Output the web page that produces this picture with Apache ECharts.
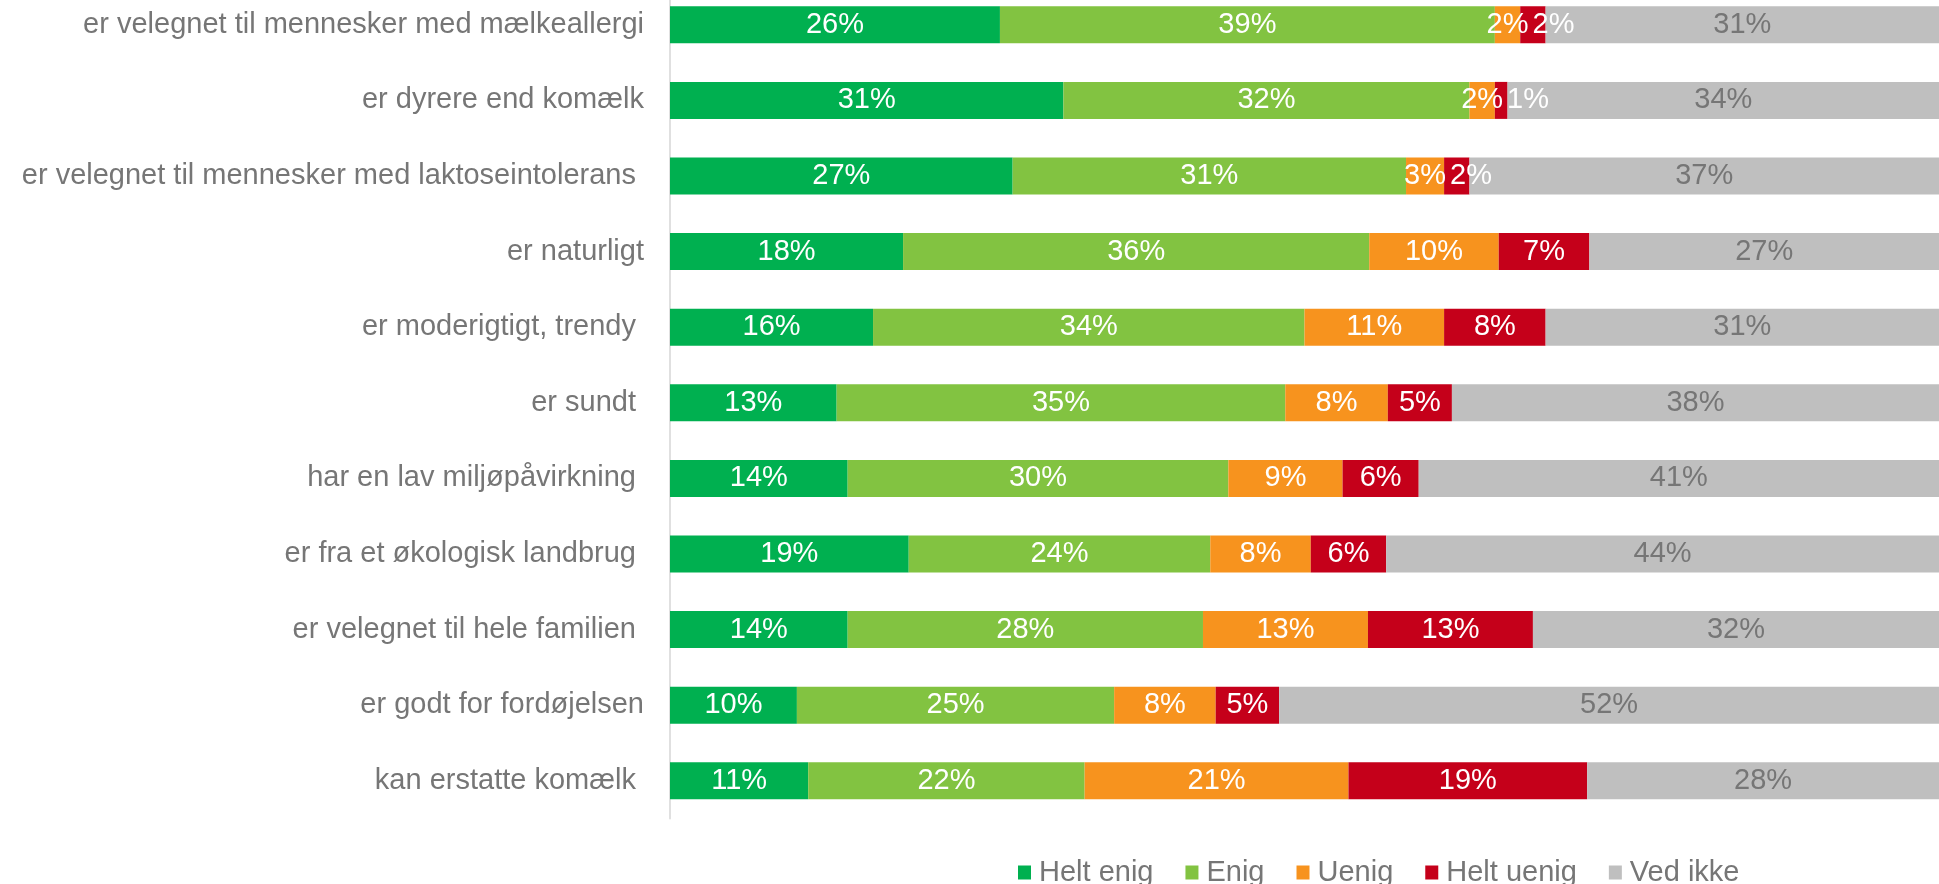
<!DOCTYPE html>
<html>
<head>
<meta charset="utf-8">
<script src="https://cdn.jsdelivr.net/npm/echarts@6/dist/echarts.min.js"></script>
<style>
  html, body { margin: 0; padding: 0; background: #ffffff; overflow: hidden; width: 1939px; height: 884px; }
  /* the plot's first row starts slightly above the page edge */
  #chart { position: absolute; left: 0; top: -13px; width: 1939px; height: 897px; }
</style>
</head>
<body>
<div id="chart"></div>
<script>
// Statements, top to bottom
const categories = [
  'er velegnet til mennesker med mælkeallergi',
  'er dyrere end komælk',
  'er velegnet til mennesker med laktoseintolerans ',
  'er naturligt',
  'er moderigtigt, trendy ',
  'er sundt ',
  'har en lav miljøpåvirkning ',
  'er fra et økologisk landbrug ',
  'er velegnet til hele familien ',
  'er godt for fordøjelsen',
  'kan erstatte komælk '
];

// Answer shares in percent, one array per answer
const heltEnig  = [26, 31, 27, 18, 16, 13, 14, 19, 14, 10, 11];
const enig      = [39, 32, 31, 36, 34, 35, 30, 24, 28, 25, 22];
const uenig     = [2, 2, 3, 10, 11, 8, 9, 8, 13, 8, 21];
const heltUenig = [2, 1, 2, 7, 8, 5, 6, 6, 13, 5, 19];
const vedIkke   = [31, 34, 37, 27, 31, 38, 41, 44, 32, 52, 28];

const answerNames = ['Helt enig', 'Enig', 'Uenig', 'Helt uenig', 'Ved ikke'];
const answerValues = [heltEnig, enig, uenig, heltUenig, vedIkke];
const answerColors = ['#00B050', '#82C341', '#F7931E', '#C5001A', '#BFBFBF'];
const labelColors = ['#FFFFFF', '#FFFFFF', '#FFFFFF', '#FFFFFF', '#767676'];

const FONT = '"Liberation Sans", Arial, sans-serif';

// Each row is drawn as a 100 % stacked bar
const rowTotals = categories.map((_, i) =>
  answerValues.reduce((s, arr) => s + arr[i], 0));

// Keeps labels of narrow neighbouring segments from running into each other
const rowRightEdge = {};
function nudgeLabel(p) {
  if (p.seriesIndex === 0) {
    rowRightEdge[p.dataIndex] = -Infinity;
  }
  const r = p.labelRect;
  const prev = rowRightEdge[p.dataIndex];
  let dx = 0;
  if (prev !== undefined && r.x < prev + 4) {
    dx = prev + 4 - r.x;
  }
  rowRightEdge[p.dataIndex] = r.x + r.width + dx;
  return { dx: dx };
}

const series = answerNames.map((name, s) => ({
  name: name,
  type: 'bar',
  stack: 'total',
  barWidth: 37,
  itemStyle: { color: answerColors[s] },
  emphasis: { disabled: true },
  label: {
    show: true,
    position: 'inside',
    color: labelColors[s],
    fontFamily: FONT,
    fontSize: 29,
    formatter: (p) => answerValues[s][p.dataIndex] + '%'
  },
  labelLayout: nudgeLabel,
  data: answerValues[s].map((v, i) => v / rowTotals[i] * 100)
}));

const chart = echarts.init(document.getElementById('chart'), null, { renderer: 'canvas' });
chart.setOption({
  animation: false,
  backgroundColor: '#ffffff',
  grid: { left: 670, right: 0, top: 0, bottom: 65.4, containLabel: false },
  xAxis: {
    type: 'value',
    min: 0,
    max: 100,
    show: false
  },
  yAxis: {
    type: 'category',
    inverse: true,
    data: categories,
    axisLine: { show: true, lineStyle: { color: '#E0E0E0', width: 2 } },
    axisTick: { show: false },
    axisLabel: {
      margin: 26,
      color: '#767676',
      fontFamily: FONT,
      fontSize: 29
    }
  },
  legend: {
    left: 1013,
    top: 866,
    itemWidth: 13,
    itemHeight: 14,
    itemGap: 32,
    icon: 'rect',
    selectedMode: false,
    textStyle: {
      color: '#767676',
      fontFamily: FONT,
      fontSize: 29,
      padding: [0, 0, 0, 3]
    },
    data: answerNames
  },
  series: series
});
</script>
</body>
</html>
